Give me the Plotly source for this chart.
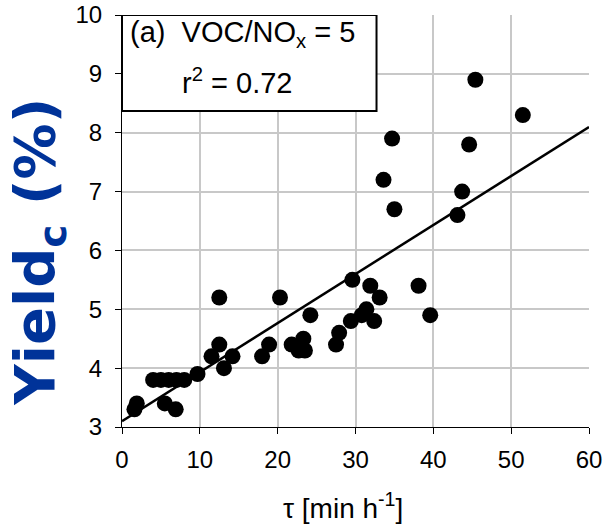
import plotly.graph_objects as go

# Data
tau = [1.6, 1.9, 4, 5, 6, 7, 8, 5.5, 6.9, 9.7, 11.5, 12.5, 12.5, 13.1, 14.2,
       18.0, 18.9, 20.3, 21.8, 22.7, 23.3, 23.5, 24.2, 27.5, 27.9, 29.4, 29.6,
       30.8, 31.4, 31.9, 32.4, 33.1, 33.6, 34.7, 35.0, 38.1, 39.6, 43.1, 43.7,
       44.6, 45.4, 51.5]
yield_c = [3.3, 3.4, 3.8, 3.8, 3.8, 3.8, 3.8, 3.4, 3.3, 3.9, 4.2, 4.4, 5.2, 4.0, 4.2,
           4.2, 4.4, 5.2, 4.4, 4.3, 4.5, 4.3, 4.9, 4.4, 4.6, 4.8, 5.5,
           4.9, 5.0, 5.4, 4.8, 5.2, 7.2, 7.9, 6.7, 5.4, 4.9, 6.6, 7.0,
           7.8, 8.9, 8.3]
fit_intercept = 3.1
fit_slope = 0.0833
fit_x = [0, 60]
fit_y = [fit_intercept + fit_slope * v for v in fit_x]

x_ticks = [0, 10, 20, 30, 40, 50, 60]
y_ticks = [3, 4, 5, 6, 7, 8, 9, 10]

FONT = "Liberation Sans, Arial, sans-serif"

fig = go.Figure()
fig.add_trace(go.Scatter(x=tau, y=yield_c, mode="markers",
                         marker=dict(size=16, color="black", line=dict(width=0)),
                         showlegend=False))
fig.add_trace(go.Scatter(x=fit_x, y=fit_y, mode="lines",
                         line=dict(color="black", width=2.5), showlegend=False))

axis_common = dict(showline=True, linecolor="black", linewidth=1,
                   ticks="outside", ticklen=6, tickcolor="black", tickwidth=1,
                   showgrid=True, gridcolor="#c8c8c8", gridwidth=1.5,
                   zeroline=False, automargin=False,
                   tickfont=dict(family=FONT, size=24, color="black"))

fig.update_layout(
    template="none",
    width=606, height=525,
    margin=dict(l=122, r=17, t=15, b=98, autoexpand=False),
    plot_bgcolor="white", paper_bgcolor="white",
    xaxis=dict(range=[0, 60], tickvals=x_ticks, ticklabelstandoff=5, **axis_common),
    yaxis=dict(range=[3, 10], tickvals=y_ticks, ticklabelstandoff=8, **axis_common),
    shapes=[dict(type="rect", xref="x", yref="y", x0=0, x1=32.7, y0=8.37, y1=10,
                 line=dict(color="black", width=2), fillcolor="white", layer="above")],
    annotations=[
        dict(text="(a)  VOC/NO<sub>x</sub> = 5", xref="paper", yref="paper",
             x=0.0128, y=0.954, xanchor="left", yanchor="middle", showarrow=False,
             font=dict(family=FONT, size=29, color="black")),
        dict(text="r<sup>2</sup> = 0.72", xref="paper", yref="paper",
             x=0.124, y=0.840, xanchor="left", yanchor="middle", showarrow=False,
             font=dict(family=FONT, size=29, color="black")),
        dict(text="<b>Yield<sub>c</sub> (%)</b>", xref="paper", yref="paper",
             x=-0.178, y=0.425, xanchor="center", yanchor="middle", textangle=-90,
             showarrow=False, font=dict(family="DejaVu Sans", size=56, color="#003399")),
        dict(text="τ [min h<sup>-1</sup>]", xref="paper", yref="paper",
             x=0.473, y=-0.192, xanchor="center", yanchor="middle", showarrow=False,
             font=dict(family=FONT, size=28, color="black")),
    ],
)

fig.write_html("out.html")
